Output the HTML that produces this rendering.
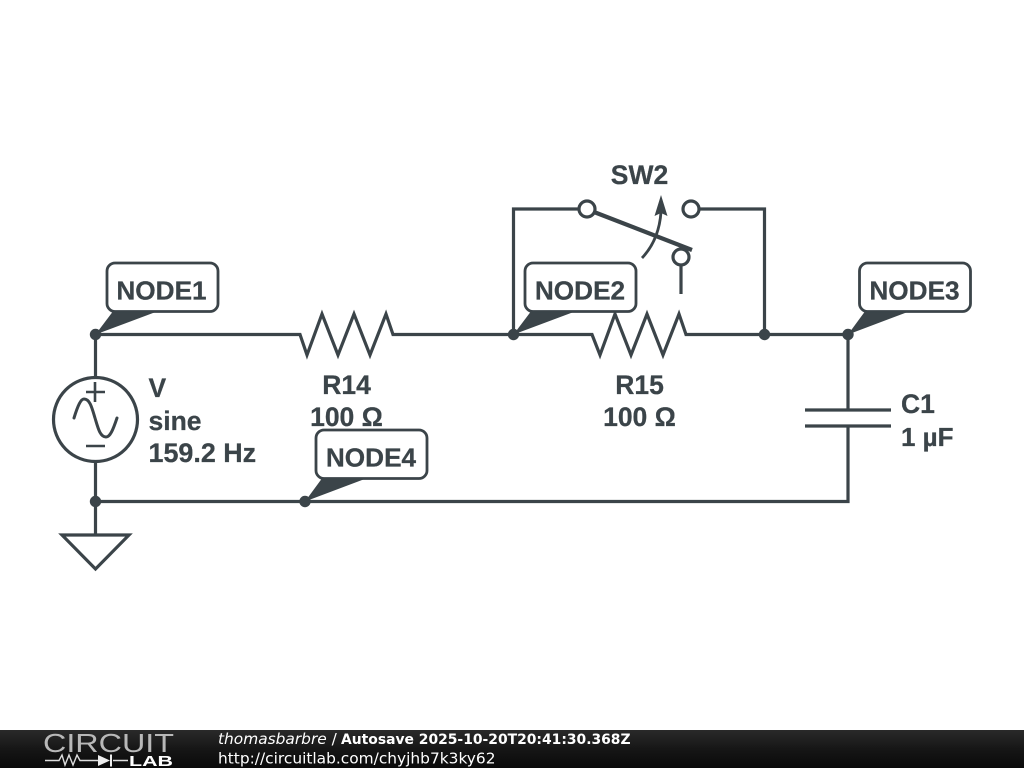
<!DOCTYPE html>
<html>
<head>
<meta charset="utf-8">
<style>
html,body{margin:0;padding:0;background:#fff;width:1024px;height:768px;overflow:hidden}
svg{display:block}
</style>
</head>
<body>
<svg width="1024" height="768" viewBox="0 0 1024 768" xmlns="http://www.w3.org/2000/svg">
<defs>
<linearGradient id="bar" x1="0" y1="0" x2="0" y2="1">
<stop offset="0" stop-color="#2a2a2a"/>
<stop offset="0.5" stop-color="#161616"/>
<stop offset="1" stop-color="#0a0a0a"/>
</linearGradient>
</defs>
<rect width="1024" height="768" fill="#fff"/>
<g fill="none" stroke="#3b4449" stroke-width="3.2" stroke-linejoin="miter" stroke-linecap="butt">
<path d="M95.5 334.500H300L307 355L322 314L338 355L354 314L370 355L386 314L393 334.500H592L600 355L615 314L631 355L647 314L663 355L679 314L686 334.500H848V409"/>
<path d="M848 426V501.500H95.500V535"/>
<path d="M95.500 334.500V378"/>
<path d="M95.500 461V501.500"/>
<path d="M513.500 334.500V209H579"/>
<path d="M699 209H764.500V334.500"/>
<path d="M681 265V294"/>
<path d="M805 410H891M805 426H891"/>
<circle cx="95.500" cy="419.500" r="42"/>
<circle cx="587" cy="209" r="8"/>
<circle cx="691" cy="209" r="8"/>
<circle cx="681" cy="257" r="8"/>
<path d="M62 535H129L95.500 569Z"/>
<path d="M594 212L692 250" stroke-width="4.200"/>
<path d="M642 258Q659 240 661 212" stroke-width="2.800"/>
<path d="M74 418C78 405 81 399 84 399C90 399 92 408 95 418C98 428 100 437 106 437C110 437 113 430 117 418" stroke-width="3" stroke-linecap="round"/>
<path d="M95 382V402M86 392H105M86 446H105" stroke-width="2.600"/>
</g>
<path d="M661 195L667.500 216L661 213L654.500 216Z" fill="#3b4449"/>
<g fill="#3b4449">
<circle cx="95.500" cy="334.500" r="5.700"/>
<circle cx="95.500" cy="501.500" r="5.700"/>
<circle cx="513.500" cy="334.500" r="5.700"/>
<circle cx="764.500" cy="334.500" r="5.700"/>
<circle cx="848" cy="334.500" r="5.700"/>
<circle cx="305" cy="501.500" r="5.700"/>
<path d="M95.500 334.500L114 310H161Z"/>
<path d="M513.500 334.500L532 310H579Z"/>
<path d="M848 334.500L866 310H913Z"/>
<path d="M305 501.500L323 477H370Z"/>
</g>
<g fill="#fff" stroke="#3b4449" stroke-width="2.800">
<rect x="107" y="263" width="111" height="48.500" rx="8"/>
<rect x="525" y="263" width="111" height="48.500" rx="8"/>
<rect x="859.500" y="263" width="111" height="48.500" rx="8"/>
<rect x="316" y="430" width="111" height="48.500" rx="8"/>
</g>
<g font-family="'Liberation Sans',sans-serif" font-weight="bold" font-size="26.500" fill="#3b4449" stroke="#3b4449" stroke-width="0.25" text-anchor="middle">
<g font-size="26.200">
<text x="161.500" y="299.500">NODE1</text>
<text x="580" y="299.500">NODE2</text>
<text x="914.500" y="299.500">NODE3</text>
<text x="371" y="466.500">NODE4</text>
</g>
<text x="346.500" y="394">R14</text>
<text x="346.500" y="426">100 Ω</text>
<text x="639.500" y="394">R15</text>
<text x="639.500" y="426">100 Ω</text>
<text x="639.500" y="184">SW2</text>
<text x="148.500" y="397" text-anchor="start">V</text>
<text x="148.500" y="430" text-anchor="start">sine</text>
<text x="148.500" y="462" text-anchor="start" font-size="26.900">159.2 Hz</text>
<text x="901" y="413" text-anchor="start">C1</text>
<text x="901" y="446" text-anchor="start" font-size="26">1 µF</text>
</g>
<rect x="0" y="730" width="1024" height="38" fill="url(#bar)"/>
<text x="43" y="752" font-family="'Liberation Sans',sans-serif" font-size="26" textLength="131" lengthAdjust="spacingAndGlyphs" fill="#b8b8b8">CIRCUIT</text>
<path d="M45 760.500H59L62 755L65 765L69 755L73 765L77 755L80 760.500H98M113 760.500H128" fill="none" stroke="#ddd" stroke-width="1.400"/>
<path d="M98 755V766L110 760.500Z" fill="#eee"/>
<path d="M111 754.500V766.500" stroke="#eee" stroke-width="2"/>
<text x="129" y="766" font-family="'Liberation Sans',sans-serif" font-weight="bold" font-size="14.500" textLength="44" lengthAdjust="spacingAndGlyphs" fill="#fff">LAB</text>
<g font-family="'DejaVu Sans',sans-serif" font-size="15.400" fill="#fff">
<text x="218" y="744"><tspan font-style="italic">thomasbarbre</tspan> / <tspan x="341" font-weight="bold" font-size="13.900">Autosave 2025-10-20T20:41:30.368Z</tspan></text>
<text x="218" y="763.500">http://circuitlab.com/chyjhb7k3ky62</text>
</g>
</svg>
</body>
</html>
